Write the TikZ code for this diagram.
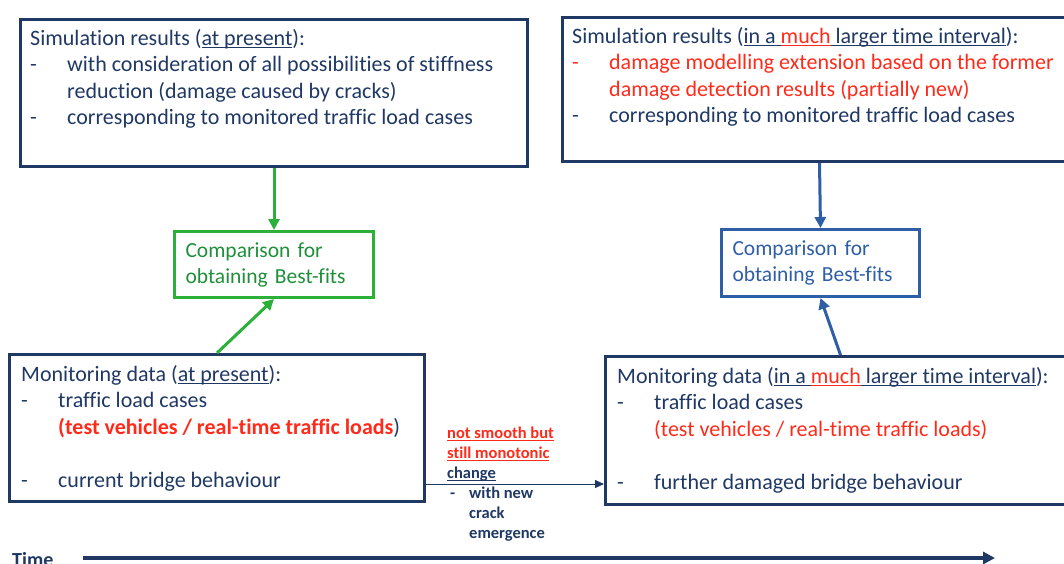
\documentclass[tikz,border=0pt]{standalone}
\usepackage{fontspec}
\setmainfont{Carlito}[Ligatures = NoCommon]
\usetikzlibrary{arrows.meta}
\usetikzlibrary{positioning}
\definecolor{navy}{HTML}{1F3864}
\definecolor{hired}{HTML}{FF2A1A}
\definecolor{grn}{HTML}{2DB03A}
\definecolor{grntext}{HTML}{1F8F3A}
\definecolor{blu}{HTML}{2E5EA6}
\tikzset{frame/.style = {draw = navy, line width = 3pt, inner sep = 0, anchor = north west}}
\tikzset{body/.style = {text = navy, align = left, anchor = north west, inner sep = 0,
    font = \fontsize{22}{26.5}\selectfont}}
\tikzset{cmp/.style = {line width = 3pt, anchor = north west, align = left, inner xsep = 11pt,
    inner ysep = 0, font = \fontsize{21.5}{26}\selectfont}}
\tikzset{garrow/.style = {draw = grn, line width = 3pt, -{Triangle[length = 11pt, width = 11pt]}}}
\tikzset{barrow/.style = {draw = blu, line width = 3pt, -{Triangle[length = 11pt, width = 11pt]}}}
\newcommand{\itm}{\makebox[37pt][l]{-}}
\newsavebox{\ulbox}
\newcommand{\ulin}[1]{\sbox{\ulbox}{#1}\rlap{\usebox{\ulbox}}\rule[-0.14em]{\wd\ulbox}{0.06em}}

\begin{document}
\begin{tikzpicture}[x = 1pt, y = -1pt]
    \useasboundingbox (0, 0) rectangle (1064, 563);

    % simulation results
    \node [frame, minimum width = 507pt, minimum height = 147pt] (simA) at (19, 18) {};
    \node [body] (simAtext) at (30, 29) {Simulation results (\ulin{at present}):\\
      \itm with consideration of all possibilities of stiffness\\
      \hspace*{37pt}reduction (damage caused by cracks)\\
      \itm corresponding to monitored traffic load cases};

    \node [frame, minimum width = 514pt, minimum height = 144pt] (simB) at (561, 16) {};
    \node [body] (simBtext) at (572, 27) {Simulation results (\ulin{in a }\textcolor{hired}{\ulin{much}}\ulin{ larger time interval}):\\
      \textcolor{hired}{\itm damage modelling extension based on the former}\\
      \textcolor{hired}{\hspace*{37pt}damage detection results (partially new)}\\
      \itm corresponding to monitored traffic load cases};

    % comparison
    \node [cmp, draw = grn, text = grntext, text width = 177pt, minimum height = 66pt] (cmpA) at (173, 230)
      {Comparison for\\obtaining Best-fits};
    \node [cmp, draw = blu, text = blu, text width = 176pt, minimum height = 67pt] (cmpB) at (720, 228)
      {Comparison for\\obtaining Best-fits};

    % monitoring data
    \node [frame, minimum width = 415pt, minimum height = 147pt] (monA) at (8, 353) {};
    \node [body] (monAtext) at (21, 365) {Monitoring data (\ulin{at present}):\\
      \itm traffic load cases\\
      \hspace*{37pt}\textcolor{hired}{\bfseries(test vehicles / real-time traffic loads})\\[26.5pt]
      \itm current bridge behaviour};

    \node [frame, minimum width = 470pt, minimum height = 148pt] (monB) at (604, 355) {};
    \node [body] (monBtext) at (617, 367) {Monitoring data (\ulin{in a }\textcolor{hired}{\ulin{much}}\ulin{ larger time interval}):\\
      \itm traffic load cases\\
      \hspace*{37pt}\textcolor{hired}{(test vehicles / real-time traffic loads)}\\[26.5pt]
      \itm further damaged bridge behaviour};

    \draw [garrow] (simA.south) -- (cmpA.north);
    \draw [garrow] (monA.north) -- (cmpA.south);
    \draw [barrow] (simB.south) -- (cmpB.north);
    \draw [barrow] (monB.north) -- (cmpB.south);

    % change between the two states
    \coordinate (lvl) at (0, 484);
    \draw [navy, line width = 1pt, -{Triangle[length = 9pt, width = 8pt]}] (monA.east |- lvl) -- (monB.west |- lvl);
    \node [text = navy, align = left, anchor = north west, inner sep = 0,
      font = \fontsize{16.5}{20}\selectfont\bfseries] (chg) at (447, 427)
      {\textcolor{hired}{\ulin{not smooth but}}\\
       \textcolor{hired}{\ulin{still monotonic}}\\
       \ulin{change}\\
       \hspace*{3pt}\makebox[19pt][l]{-}with new\\
       \hspace*{22pt}crack\\
       \hspace*{22pt}emergence};

    % time axis
    \node [text = navy, anchor = base west, inner sep = 0, font = \fontsize{20}{22}\selectfont\bfseries] (time) at (12, 566) {Time};
    \coordinate (tstart) at (83, 558);
    \coordinate (tend) at (995, 558);
    \draw [navy, line width = 4pt, -{Triangle[length = 12pt, width = 12pt]}] (tstart) -- (tend);
  \end{tikzpicture}
\end{document}
